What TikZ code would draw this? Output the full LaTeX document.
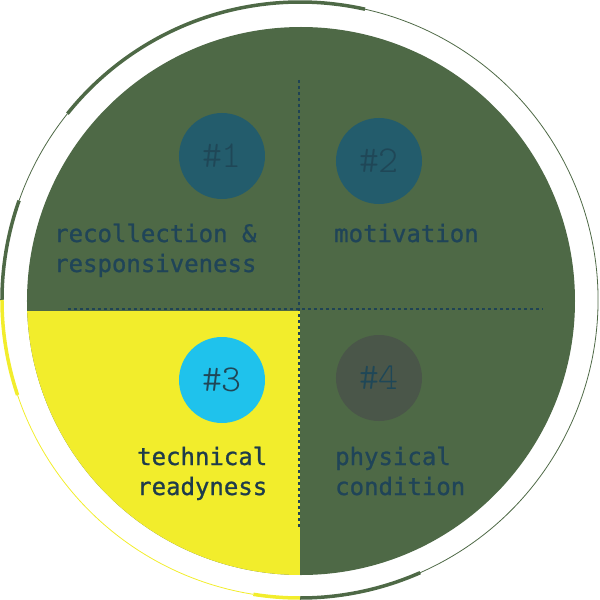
\documentclass[tikz,border=0pt]{standalone}
\usepackage{fontspec}
\newfontfamily\labelfont[FakeBold=1]{DejaVu Sans Mono}
\newfontfamily\numfont{Latin Modern Mono Light}
\definecolor{diskgreen}{HTML}{4E6946}
\definecolor{quadyellow}{HTML}{F2ED2C}
\definecolor{badgeteal}{HTML}{235C6C}
\definecolor{badgecyan}{HTML}{1FC2EC}
\definecolor{badgegray}{HTML}{4A5649}
\definecolor{numtext}{HTML}{1F4757}
\definecolor{labeltext}{HTML}{1F4458}
\definecolor{darktext}{HTML}{1E3B4B}
\definecolor{dashblue}{HTML}{1F4355}

\begin{document}
\begin{tikzpicture}
	[x = 1pt, y = 1pt,
	ring/.style = {line width = 3.5pt},
	thinring/.style = {line width = 0.8pt},
	badge/.style = {circle, minimum size = 86pt, inner sep = 0pt, font = \numfont\fontsize{38}{38}\selectfont, text = numtext},
	caption/.style = {anchor = base west, align = left, inner sep = 0pt, font = \labelfont\fontsize{24}{30}\selectfont, text = labeltext},
	divider/.style = {line width = 2.2pt, dashblue, dash pattern = on 3.2pt off 2.8pt}]
	\useasboundingbox (-300,-300) rectangle (300,300);
	% outer ring
	\draw [ring, diskgreen] (270:298) arc (270:293.8:298);
	\draw [thinring, diskgreen] (293.8:298) arc (293.8:437.4:298);
	\draw [ring, diskgreen] (77.4:298) arc (77.4:141.3:298);
	\draw [thinring, diskgreen] (141.3:298) arc (141.3:160.5:298);
	\draw [ring, diskgreen] (160.5:298) arc (160.5:180:298);
	\draw [ring, quadyellow] (180:298) arc (180:198.6:298);
	\draw [thinring, quadyellow] (198.6:298) arc (198.6:261:298);
	\draw [ring, quadyellow] (261:298) arc (261:270:298);
	% disk and yellow quarter
	\fill [diskgreen] (1,-1) circle (274);
	\begin{scope}
		\clip (1,-1) circle (274);
		\fill [quadyellow] (-300,-10.5) rectangle (0,-300);
	\end{scope}
	% dividers
	\coordinate (vtop) at (-1,220);
	\coordinate (vbot) at (-1,-228);
	\coordinate (hleft) at (-232,-9.3);
	\coordinate (hright) at (243,-9.3);
	\draw [divider] (vtop) -- (vbot);
	\draw [divider] (hleft) -- (hright);
	% badges
	\foreach \n/\x/\y/\col in {1/-78/144/badgeteal, 2/79/139/badgeteal, 3/-78/-80/badgecyan, 4/79/-78/badgegray}
		\node [badge, fill = \col] (b\n) at (\x,\y) {\#\n};
	% captions (base = last line)
	\node [caption] (l1) at (-246,28) {recollection \&\\responsiveness};
	\node [caption] (l2) at (34,58) {motivation};
	\node [caption, text = darktext] (l3) at (-163,-195) {technical\\readyness};
	\node [caption] (l4) at (35,-195) {physical\\condition};
\end{tikzpicture}
\end{document}
